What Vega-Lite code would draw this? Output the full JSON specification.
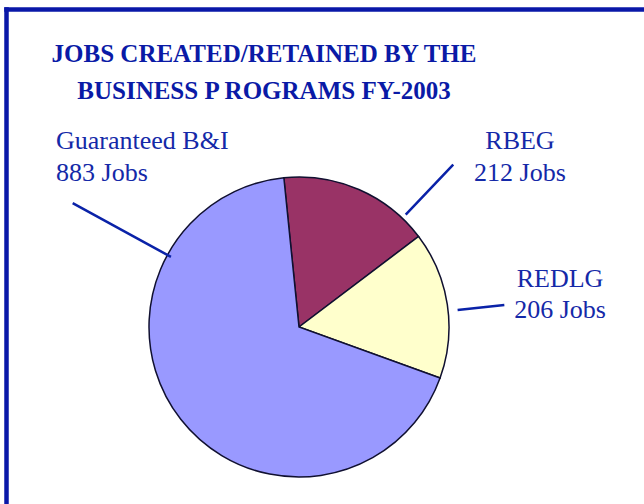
{
  "$schema": "https://vega.github.io/schema/vega-lite/v6.json",
  "width": 586,
  "height": 636,
  "autosize": {"type": "none"},
  "padding": {"left": 6, "top": 9, "right": 52, "bottom": 0},
  "background": "white",
  "config": {
    "font": "Liberation Serif",
    "text": {"font": "Liberation Serif"},
    "view": {"stroke": null}
  },
  "title": {
    "text": ["JOBS CREATED/RETAINED BY THE", "BUSINESS P ROGRAMS FY-2003"],
    "font": "Liberation Serif",
    "fontSize": 25,
    "fontWeight": "bold",
    "color": "#0A1AA6",
    "lineHeight": 37,
    "anchor": "middle",
    "frame": "group",
    "orient": "top",
    "baseline": "top",
    "offset": -95,
    "dx": -35
  },
  "data": {
    "values": [
      {"Program": "RBEG", "Jobs": 212},
      {"Program": "REDLG", "Jobs": 206},
      {"Program": "Guaranteed B&I", "Jobs": 883}
    ]
  },
  "transform": [
    {"window": [{"op": "row_number", "as": "idx"}]},
    {"calculate": "[datum.Program, datum.Jobs + ' Jobs']", "as": "label"}
  ],
  "layer": [
    {
      "mark": {"type": "point", "opacity": 0},
      "encoding": {
        "x": {
          "datum": 0,
          "type": "quantitative",
          "scale": {"domain": [0, 1], "range": [0, 650]},
          "axis": {"orient": "top", "domainColor": "#0A18A8", "domainWidth": 4.5, "domainCap": "square", "ticks": false, "labels": false, "grid": false, "title": null}
        },
        "y": {
          "datum": 0,
          "type": "quantitative",
          "scale": {"domain": [0, 1]},
          "axis": {"orient": "left", "domainColor": "#0A18A8", "domainWidth": 4.5, "domainCap": "square", "ticks": false, "labels": false, "grid": false, "title": null}
        }
      }
    },
    {
      "mark": {"type": "arc", "radius": 150, "stroke": "#101030", "strokeWidth": 1.5},
      "encoding": {
        "theta": {"field": "Jobs", "type": "quantitative", "stack": true, "scale": {"range": [-0.1012, 6.182]}},
        "order": {"field": "idx", "type": "quantitative"},
        "color": {
          "field": "Program",
          "type": "nominal",
          "scale": {"domain": ["RBEG", "REDLG", "Guaranteed B&I"], "range": ["#993366", "#FFFFCC", "#9999FF"]},
          "legend": null
        }
      }
    },
    {
      "transform": [{"filter": "datum.Program === 'Guaranteed B&I'"}],
      "mark": {"type": "arc", "radius": 258, "radius2": 146, "stroke": "#0A22A8", "strokeWidth": 2.5, "fill": "transparent"},
      "encoding": {
        "theta": {"datum": 1100.4, "type": "quantitative"},
        "theta2": {"datum": 1100.4}
      }
    },
    {
      "transform": [{"filter": "datum.Program === 'RBEG'"}],
      "mark": {"type": "arc", "radius": 224, "radius2": 155, "stroke": "#0A22A8", "strokeWidth": 2.5, "fill": "transparent"},
      "encoding": {
        "theta": {"datum": 178.2, "type": "quantitative"},
        "theta2": {"datum": 178.2}
      }
    },
    {
      "transform": [{"filter": "datum.Program === 'REDLG'"}],
      "mark": {"type": "arc", "radius": 206.5, "radius2": 159.5, "stroke": "#0A22A8", "strokeWidth": 2.5, "fill": "transparent"},
      "encoding": {
        "theta": {"datum": 324.2, "type": "quantitative"},
        "theta2": {"datum": 324.2}
      }
    },
    {
      "transform": [{"filter": "datum.Program === 'Guaranteed B&I'"}],
      "mark": {"type": "text", "radius": 306.0, "align": "left", "baseline": "middle", "font": "Liberation Serif", "fontSize": 26, "lineHeight": 32, "color": "#1429A8"},
      "encoding": {
        "theta": {"datum": 1132.0, "type": "quantitative"},
        "text": {"field": "label"}
      }
    },
    {
      "transform": [{"filter": "datum.Program === 'RBEG'"}],
      "mark": {"type": "text", "radius": 288.85, "align": "center", "baseline": "middle", "font": "Liberation Serif", "fontSize": 26, "lineHeight": 32, "color": "#1429A8"},
      "encoding": {
        "theta": {"datum": 201.3, "type": "quantitative"},
        "text": {"field": "label"}
      }
    },
    {
      "transform": [{"filter": "datum.Program === 'REDLG'"}],
      "mark": {"type": "text", "radius": 265.4, "align": "center", "baseline": "middle", "font": "Liberation Serif", "fontSize": 26, "lineHeight": 31, "color": "#1429A8"},
      "encoding": {
        "theta": {"datum": 308.6, "type": "quantitative"},
        "text": {"field": "label"}
      }
    }
  ]
}
